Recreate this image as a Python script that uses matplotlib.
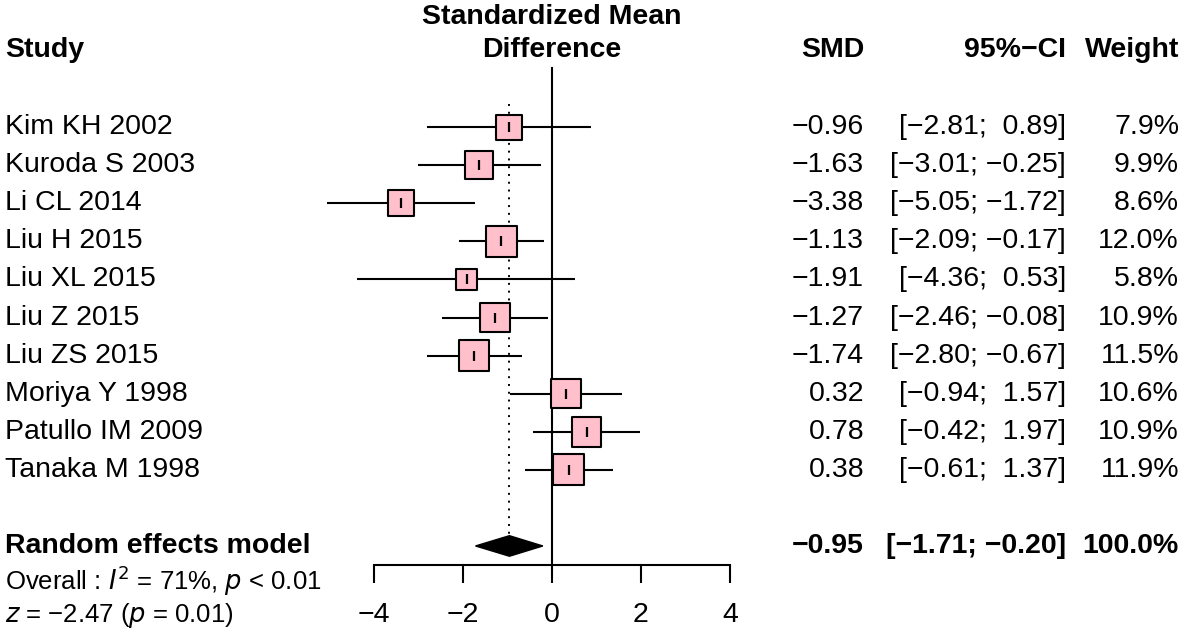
"""Forest plot: standardized mean difference, random effects model."""

import matplotlib.pyplot as plt
from matplotlib.transforms import blended_transform_factory

plt.rcParams["font.family"] = ["Liberation Sans", "DejaVu Sans"]

studies = ["Kim KH 2002", "Kuroda S 2003", "Li CL 2014", "Liu H 2015", "Liu XL 2015",
           "Liu Z 2015", "Liu ZS 2015", "Moriya Y 1998", "Patullo IM 2009", "Tanaka M 1998"]
smd = [-0.96, -1.63, -3.38, -1.13, -1.91, -1.27, -1.74, 0.32, 0.78, 0.38]
ci_low = [-2.81, -3.01, -5.05, -2.09, -4.36, -2.46, -2.80, -0.94, -0.42, -0.61]
ci_high = [0.89, -0.25, -1.72, -0.17, 0.53, -0.08, -0.67, 1.57, 1.97, 1.37]
weight = [7.9, 9.9, 8.6, 12.0, 5.8, 10.9, 11.5, 10.6, 10.9, 11.9]

pooled_smd = -0.95
pooled_low = -1.71
pooled_high = -0.20
het_text = r"Overall : $\mathit{I}^2$ = 71%, $\mathit{p}$ < 0.01"
z_text = r"$\mathit{z}$ = −2.47 ($\mathit{p}$ = 0.01)"
xticks = [-4, -2, 0, 2, 4]

W, H = 1181, 637
FS = 20.5
LW = 1.5
fig = plt.figure(figsize=(W / 100, H / 100), dpi=100)
# forest axes: x from -4 to 4, bottom spine is the SMD axis
ax = fig.add_axes([373.5 / W, (H - 565) / H, (730 - 373.5) / W, 565 / H])
ax.set_xlim(-4, 4)
ax.set_ylim(11.5, -127 / 38)
for s in ["top", "left", "right"]:
    ax.spines[s].set_visible(False)
ax.spines["bottom"].set_linewidth(LW)
ax.set_yticks([])
ax.set_xticks(xticks)
ax.set_xticklabels([f"{t}".replace("-", "−") for t in xticks])
ax.tick_params(axis="x", direction="out", length=13, width=LW, pad=14, labelsize=FS)

rows = list(range(len(studies)))
pooled_row = 11

ax.plot([0, 0], [-1.55, 11.5], color="black", lw=LW, zorder=1, clip_on=False)
ax.plot([pooled_smd, pooled_smd], [-0.6, 10.7], color="black", lw=1.4,
        ls=(0, (1, 3)), zorder=1)

ax.hlines(rows, ci_low, ci_high, color="black", lw=LW, zorder=2, clip_on=False)
ax.scatter(smd, rows, s=[41.5 * w for w in weight], marker="s", facecolor="#FFC0CB",
           edgecolor="black", linewidths=LW, zorder=3, clip_on=False)
ax.scatter(smd, rows, s=48, marker="|", color="black", linewidths=1.6, zorder=4)

ax.fill([pooled_low, pooled_smd, pooled_high, pooled_smd],
        [pooled_row, pooled_row - 0.27, pooled_row, pooled_row + 0.27],
        color="black", zorder=3, clip_on=False)

tr = blended_transform_factory(fig.transFigure, ax.transData)
x_study, x_smd, x_ci, x_w = 5 / W, 864 / W, 1066 / W, 1179 / W


def fmt(v):
    return f"{v:.2f}".replace("-", "−")


def fmt_ci(lo, hi):
    lo_s = fmt(lo) if lo < 0 else " " + fmt(lo)
    hi_s = fmt(hi) if hi < 0 else " " + fmt(hi)
    return f"[{lo_s}; {hi_s}]"


hdr_y = -2.03
kw = dict(transform=tr, fontsize=FS, va="center", clip_on=False)
ax.text(x_study, hdr_y, "Study", ha="left", fontweight="bold", **kw)
ax.text(0, -2.9, "Standardized Mean", ha="center", va="center", fontsize=FS,
        fontweight="bold", clip_on=False)
ax.text(0, hdr_y, "Difference", ha="center", va="center", fontsize=FS,
        fontweight="bold", clip_on=False)
ax.text(x_smd, hdr_y, "SMD", ha="right", fontweight="bold", **kw)
ax.text(x_ci, hdr_y, "95%−CI", ha="right", fontweight="bold", **kw)
ax.text(x_w, hdr_y, "Weight", ha="right", fontweight="bold", **kw)

for r, name, m, lo, hi, w in zip(rows, studies, smd, ci_low, ci_high, weight):
    ax.text(x_study, r, name, ha="left", **kw)
    ax.text(x_smd, r, fmt(m), ha="right", **kw)
    ax.text(x_ci, r, fmt_ci(lo, hi), ha="right", **kw)
    ax.text(x_w, r, f"{w:.1f}%", ha="right", **kw)

ax.text(x_study, pooled_row, "Random effects model", ha="left", fontweight="bold", **kw)
ax.text(x_smd, pooled_row, fmt(pooled_smd), ha="right", fontweight="bold", **kw)
ax.text(x_ci, pooled_row, fmt_ci(pooled_low, pooled_high), ha="right", fontweight="bold", **kw)
ax.text(x_w, pooled_row, "100.0%", ha="right", fontweight="bold", **kw)

ax.text(x_study, 11.92, het_text, ha="left", transform=tr, fontsize=18.5, va="center",
        clip_on=False)
ax.text(x_study, 12.82, z_text, ha="left", transform=tr, fontsize=18.5, va="center",
        clip_on=False)

fig.savefig("out.png", dpi=100)
